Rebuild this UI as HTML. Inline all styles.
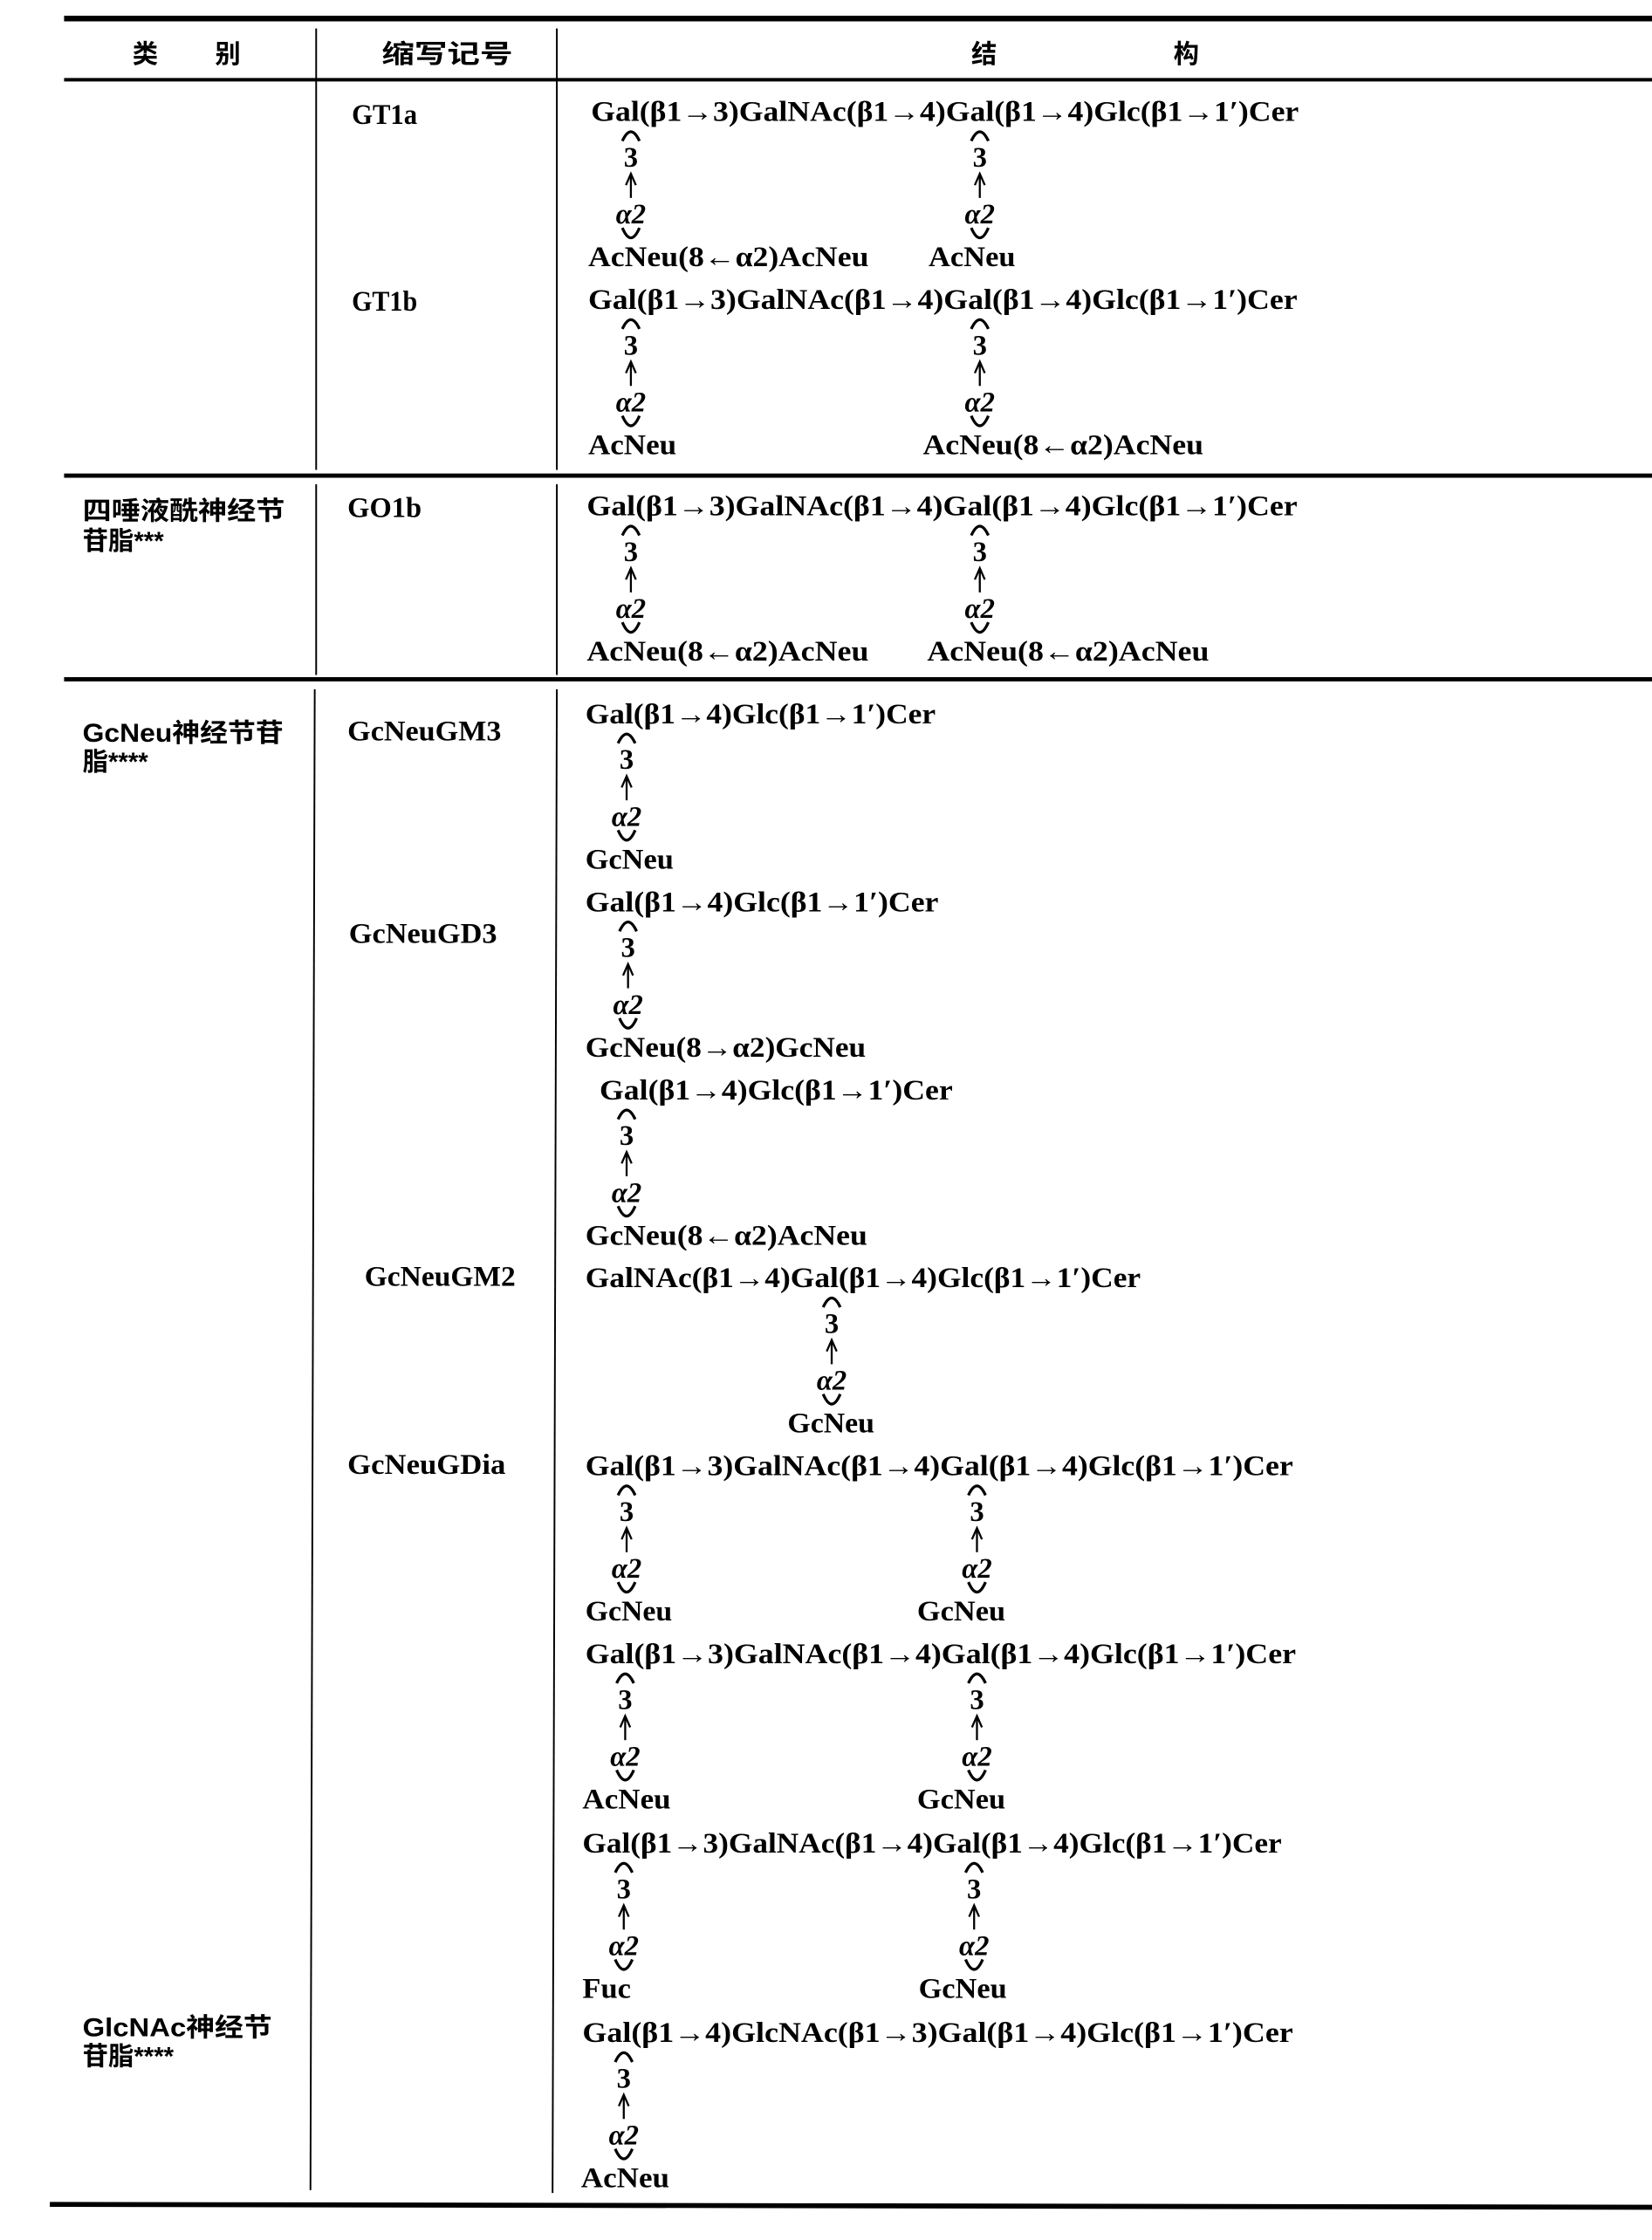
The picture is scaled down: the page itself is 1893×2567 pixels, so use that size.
<!DOCTYPE html>
<html><head><meta charset="utf-8"><style>
html,body{margin:0;padding:0;background:#fff;}
svg{display:block;}
text{font-family:"Liberation Serif","Noto Serif CJK SC",serif;fill:#000;}
.m{font-size:20px;font-weight:bold;}
.c{font-family:"Liberation Sans","Noto Sans CJK SC",sans-serif;font-size:18px;font-weight:bold;}
.i{font-style:italic;}
</style></head><body>
<svg width="1893" height="2567" viewBox="0 0 1160 1573" preserveAspectRatio="none" xmlns="http://www.w3.org/2000/svg">
<g stroke="#000" fill="none">
<line x1="45" y1="13" x2="1160" y2="13" stroke-width="4"/>
<line x1="45" y1="56" x2="1160" y2="56" stroke-width="2.5"/>
<line x1="45" y1="334" x2="1160" y2="334" stroke-width="3"/>
<line x1="45" y1="477" x2="1160" y2="477" stroke-width="3"/>
<line x1="35" y1="1548" x2="1160" y2="1550" stroke-width="3.5"/>
<line x1="222" y1="20" x2="222" y2="330" stroke-width="1.2"/>
<line x1="222" y1="340" x2="222" y2="474" stroke-width="1.2"/>
<line x1="221" y1="484" x2="218" y2="1538" stroke-width="1.2"/>
<line x1="391" y1="20" x2="391" y2="330" stroke-width="1.2"/>
<line x1="391" y1="340" x2="391" y2="474" stroke-width="1.2"/>
<line x1="391" y1="484" x2="388" y2="1540" stroke-width="1.2"/>
</g>
<text class="c" x="93" y="44">类</text><text class="c" x="151" y="44">别</text>
<text class="c" x="268" y="44" textLength="92" lengthAdjust="spacingAndGlyphs">缩写记号</text>
<text class="c" x="682" y="44">结</text><text class="c" x="824" y="44">构</text>
<text class="c" x="58" y="365" textLength="142" lengthAdjust="spacingAndGlyphs">四唾液酰神经节</text>
<text class="c" x="58" y="386">苷脂***</text>
<text class="c" x="58" y="521" textLength="141" lengthAdjust="spacingAndGlyphs">GcNeu神经节苷</text>
<text class="c" x="58" y="541">脂****</text>
<text class="c" x="58" y="1430" textLength="133" lengthAdjust="spacingAndGlyphs">GlcNAc神经节</text>
<text class="c" x="58" y="1450">苷脂****</text>
<g class="m">
<text x="247" y="87" textLength="46" lengthAdjust="spacingAndGlyphs">GT1a</text>
<text x="247" y="218" textLength="46" lengthAdjust="spacingAndGlyphs">GT1b</text>
<text x="244" y="363" textLength="52" lengthAdjust="spacingAndGlyphs">GO1b</text>
<text x="244" y="520" textLength="108" lengthAdjust="spacingAndGlyphs">GcNeuGM3</text>
<text x="245" y="662" textLength="104" lengthAdjust="spacingAndGlyphs">GcNeuGD3</text>
<text x="256" y="903" textLength="106" lengthAdjust="spacingAndGlyphs">GcNeuGM2</text>
<text x="244" y="1035" textLength="111" lengthAdjust="spacingAndGlyphs">GcNeuGDia</text>
</g>
<g id="blocks"></g>
</svg>
<script>
var B=[
[78,415,912,"Gal(β1→3)GalNAc(β1→4)Gal(β1→4)Glc(β1→1′)Cer",[[443,413,610,"AcNeu(8←α2)AcNeu"],[688,652,713,"AcNeu"]]],
[210,413,911,"Gal(β1→3)GalNAc(β1→4)Gal(β1→4)Glc(β1→1′)Cer",[[443,413,475,"AcNeu"],[688,648,845,"AcNeu(8←α2)AcNeu"]]],
[355,412,911,"Gal(β1→3)GalNAc(β1→4)Gal(β1→4)Glc(β1→1′)Cer",[[443,412,610,"AcNeu(8←α2)AcNeu"],[688,651,849,"AcNeu(8←α2)AcNeu"]]],
[501,411,657,"Gal(β1→4)Glc(β1→1′)Cer",[[440,411,473,"GcNeu"]]],
[633,411,659,"Gal(β1→4)Glc(β1→1′)Cer",[[441,411,608,"GcNeu(8→α2)GcNeu"]]],
[765,421,669,"Gal(β1→4)Glc(β1→1′)Cer",[[440,411,609,"GcNeu(8←α2)AcNeu"]]],
[897,411,801,"GalNAc(β1→4)Gal(β1→4)Glc(β1→1′)Cer",[[584,553,614,"GcNeu"]]],
[1029,411,908,"Gal(β1→3)GalNAc(β1→4)Gal(β1→4)Glc(β1→1′)Cer",[[440,411,472,"GcNeu"],[686,644,706,"GcNeu"]]],
[1161,411,910,"Gal(β1→3)GalNAc(β1→4)Gal(β1→4)Glc(β1→1′)Cer",[[439,409,471,"AcNeu"],[686,644,706,"GcNeu"]]],
[1294,409,900,"Gal(β1→3)GalNAc(β1→4)Gal(β1→4)Glc(β1→1′)Cer",[[438,409,443,"Fuc"],[684,645,707,"GcNeu"]]],
[1427,409,908,"Gal(β1→4)GlcNAc(β1→3)Gal(β1→4)Glc(β1→1′)Cer",[[438,408,470,"AcNeu"]]]
];
var s="";
B.forEach(function(b){var m=b[0];
s+='<text class="m" x="'+b[1]+'" y="'+(m+7)+'" textLength="'+(b[2]-b[1])+'" lengthAdjust="spacingAndGlyphs">'+b[3]+'</text>';
b[4].forEach(function(r){var x=r[0];
s+='<path d="M'+(x-6)+' '+(m+21)+' Q'+x+' '+(m+8)+' '+(x+6)+' '+(m+21)+'" stroke="#000" stroke-width="2" fill="none"/>';
s+='<text class="m" x="'+x+'" y="'+(m+39)+'" text-anchor="middle" font-weight="normal" font-size="21">3</text>';
s+='<line x1="'+x+'" y1="'+(m+45)+'" x2="'+x+'" y2="'+(m+61)+'" stroke="#000" stroke-width="1.4"/>';
s+='<path d="M'+(x-3.5)+' '+(m+52)+' L'+x+' '+(m+44)+' L'+(x+3.5)+' '+(m+52)+'" stroke="#000" stroke-width="1.4" fill="none"/>';
s+='<text class="m i" x="'+x+'" y="'+(m+79)+'" text-anchor="middle" font-size="21">α2</text>';
s+='<path d="M'+(x-6)+' '+(m+82)+' Q'+x+' '+(m+96)+' '+(x+6)+' '+(m+82)+'" stroke="#000" stroke-width="2" fill="none"/>';
s+='<text class="m" x="'+r[1]+'" y="'+(m+109)+'" textLength="'+(r[2]-r[1])+'" lengthAdjust="spacingAndGlyphs">'+r[3]+'</text>';
});});
document.getElementById("blocks").innerHTML=s;
</script>
</body></html>
